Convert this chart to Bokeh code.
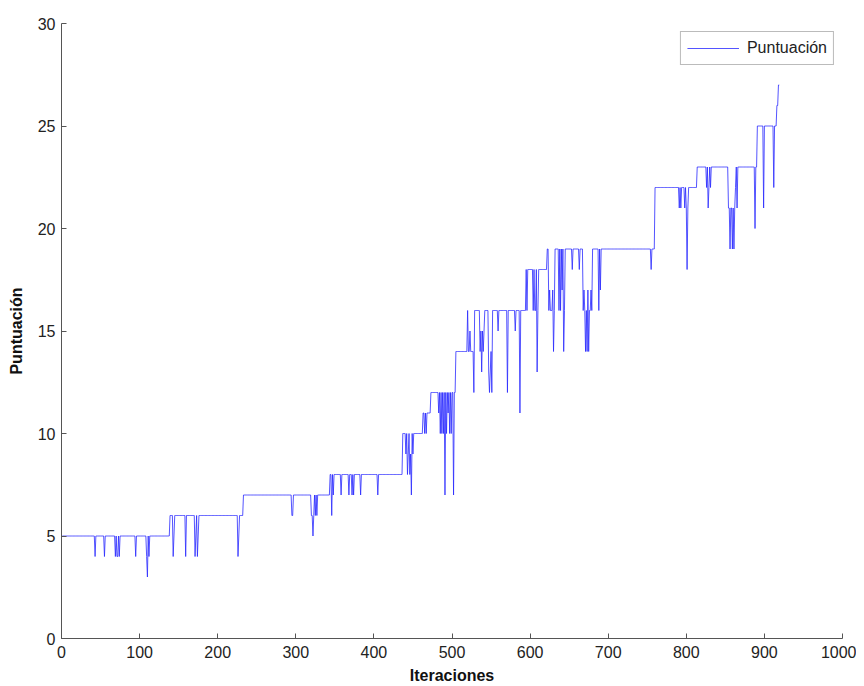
from bokeh.plotting import figure
from bokeh.models import Range1d, Legend, LegendItem, FixedTicker
from bokeh.embed import file_html
from bokeh.resources import INLINE

# Level (best score) change points: first iteration at each new level
level_start = [1, 139, 233, 344, 437, 463, 473, 505, 520, 595, 622, 760, 814, 891, 916, 918]
level_value = [5, 6, 7, 8, 10, 11, 12, 14, 16, 18, 19, 22, 23, 25, 26, 27]
last_iteration = 919

# Iterations where the score dipped below the current level, and the dipped score
dip_iter = [43, 55, 69, 71, 72, 74, 95, 109, 110, 112,
            143, 144, 159, 171, 172, 174, 175, 226, 227,
            295, 296, 320, 321, 322, 323, 325, 327,
            346, 348, 358, 368, 372, 374, 383, 405,
            441, 443, 444, 446, 447, 448, 450,
            465, 467,
            483, 485, 487, 489, 491, 493, 495, 497, 499, 502,
            521, 522, 523, 524, 525, 526, 527, 528, 536, 537, 538, 539, 540, 541,
            547, 548, 549, 550, 551, 559, 571, 581, 587,
            596, 604, 606, 607, 609, 610,
            624, 625, 626, 627, 628, 629, 630, 631, 637, 639, 641, 643, 644,
            654, 663, 668, 669, 670, 671, 672, 673, 674, 675, 676, 677, 678, 679,
            688, 690, 755,
            791, 793, 798, 800, 801, 802,
            826, 828, 829, 831, 854, 855, 856, 857, 858, 859, 860, 861, 862, 863, 865, 888,
            899, 912]
dip_value = [4, 4, 4, 4, 4, 4, 4, 4, 3, 4,
             4, 5, 4, 4, 5, 4, 5, 4, 5,
             6, 6, 6, 6, 5, 6, 6, 6,
             6, 7, 7, 7, 7, 7, 7, 7,
             9, 8, 9, 8, 9, 7, 9,
             10, 10,
             11, 10, 10, 10, 7, 10, 11, 10, 10, 7,
             14, 14, 15, 14, 14, 14, 14, 12, 14, 15, 13, 15, 14, 15,
             13, 12, 13, 14, 12, 15, 12, 15, 11,
             16, 16, 16, 16, 13, 16,
             16, 17, 16, 16, 16, 17, 14, 16, 16, 16, 17, 14, 16,
             18, 18, 16, 17, 16, 14, 16, 14, 17, 14, 16, 16, 17, 16,
             16, 17, 18,
             21, 21, 21, 21, 18, 21,
             22, 21, 22, 22, 21, 21, 19, 21, 21, 19, 21, 19, 21, 22, 21, 20,
             21, 22]

x_ticks = [0, 100, 200, 300, 400, 500, 600, 700, 800, 900, 1000]
y_ticks = [0, 5, 10, 15, 20, 25, 30]

# Build per-iteration series from the read values
iters = list(range(1, last_iteration + 1))
scores = []
k = 0
for it in iters:
    while k + 1 < len(level_start) and it >= level_start[k + 1]:
        k += 1
    scores.append(level_value[k])
dips = dict(zip(dip_iter, dip_value))
scores = [dips.get(it, s) for it, s in zip(iters, scores)]

p = figure(width=856, height=686, output_backend="svg", toolbar_location=None,
           x_range=Range1d(0, 1000), y_range=Range1d(0, 30),
           min_border_left=61, min_border_right=14, min_border_top=23, min_border_bottom=46)

r = p.line(iters, scores, line_color="#2828ff", line_width=0.8)

p.xgrid.visible = False
p.ygrid.visible = False
p.outline_line_color = None
p.background_fill_color = "white"
p.border_fill_color = "white"

for ax in (p.xaxis[0], p.yaxis[0]):
    ax.axis_line_color = "#555555"
    ax.major_tick_line_color = "#555555"
    ax.major_tick_in = 5
    ax.major_tick_out = 0
    ax.minor_tick_line_color = None
    ax.major_label_text_font = "Liberation Sans"
    ax.major_label_text_font_size = "16px"
    ax.major_label_text_color = "#222222"
    ax.axis_label_text_font = "Liberation Sans"
    ax.axis_label_text_font_size = "16px"
    ax.axis_label_text_font_style = "bold"
    ax.axis_label_text_color = "#111111"

p.xaxis[0].major_label_standoff = 7
p.xaxis[0].axis_label_standoff = 6
p.yaxis[0].major_label_standoff = 6
p.yaxis[0].axis_label_standoff = 10

p.xaxis[0].ticker = FixedTicker(ticks=x_ticks)
p.yaxis[0].ticker = FixedTicker(ticks=y_ticks)
p.xaxis[0].axis_label = "Iteraciones"
p.yaxis[0].axis_label = "Puntuación"

legend = Legend(items=[LegendItem(label="Puntuación", renderers=[r])],
                location="top_right")
legend.margin = 8
legend.border_line_color = "#777777"
legend.border_line_width = 1
legend.label_text_font = "Liberation Sans"
legend.label_text_font_size = "16px"
legend.label_text_color = "#222222"
legend.glyph_width = 52
legend.padding = 6
legend.spacing = 0
legend.label_standoff = 8
p.add_layout(legend)

open("out.html", "w").write(file_html(p, INLINE))
